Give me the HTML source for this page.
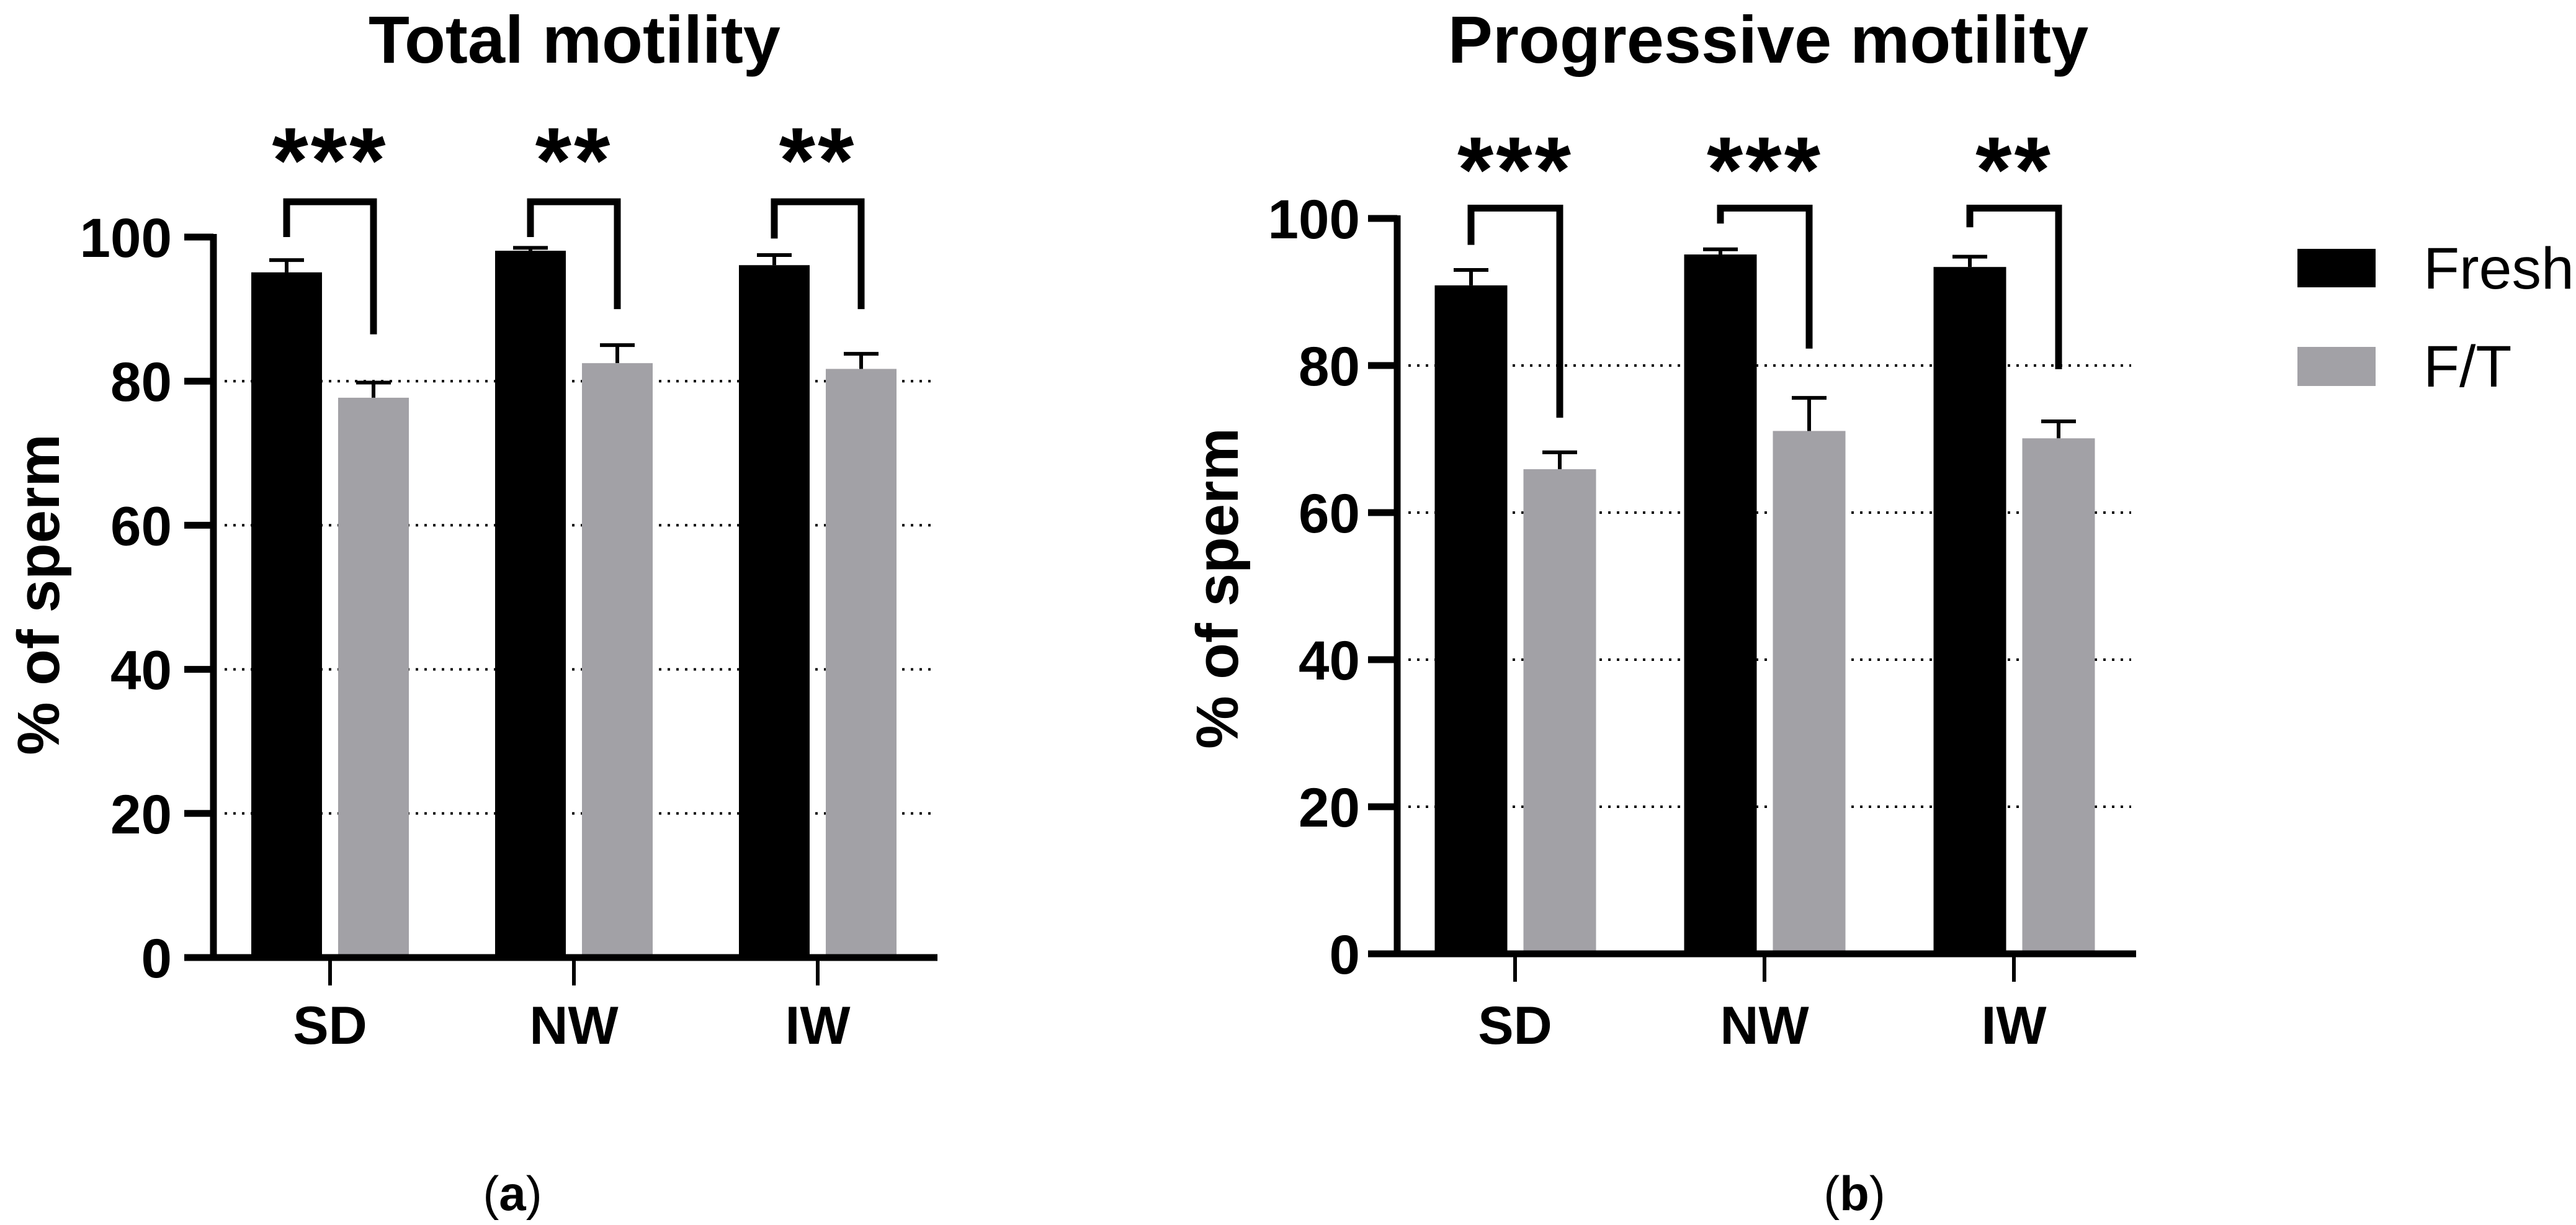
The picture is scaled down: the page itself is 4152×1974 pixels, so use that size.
<!DOCTYPE html>
<html><head><meta charset="utf-8">
<style>
html,body{margin:0;padding:0;background:#fff;}
svg{display:block;}
text{font-family:"Liberation Sans",Arial,sans-serif;}
</style></head>
<body>
<svg id="fig" width="4152" height="1974" viewBox="0 0 4152 1974" xmlns="http://www.w3.org/2000/svg">
  <g id="panelA"></g>
  <g id="panelB"></g>
  <g>
    <rect x="3703" y="401" width="126" height="62" fill="#000"/>
    <text x="3906" y="465" font-size="95">Fresh</text>
    <rect x="3703" y="559" width="126" height="63" fill="#a2a1a6"/>
    <text x="3906" y="623" font-size="95">F/T</text>
  </g>
  <text x="826" y="1950" font-size="78" text-anchor="middle" font-family="Liberation Serif, serif">(<tspan font-weight="bold">a</tspan>)</text>
  <text x="2989" y="1950" font-size="78" text-anchor="middle" font-family="Liberation Serif, serif">(<tspan font-weight="bold">b</tspan>)</text>
</svg>
<script>
const categories = ["SD","NW","IW"];
const yTicks = [0,20,40,60,80,100];
// Panel A: total motility
const totalFresh = [95.1, 98.1, 96.1];
const totalFreshErr = [96.8, 98.5, 97.5];
const totalFT = [77.7, 82.5, 81.7];
const totalFTErr = [79.8, 85.0, 83.8];
const totalStars = ["***","**","**"];
const totalBracketTop = [104.9, 104.9, 104.9];
const totalBracketLeft = [100, 100, 99.8];
const totalBracketRight = [86.5, 90, 90];
// Panel B: progressive motility
const progFresh = [90.9, 95.1, 93.4];
const progFreshErr = [93.0, 95.8, 94.8];
const progFT = [65.9, 71.1, 70.1];
const progFTErr = [68.2, 75.6, 72.4];
const progStars = ["***","***","**"];
const progBracketTop = [101.4, 101.4, 101.4];
const progBracketLeft = [96.4, 99.3, 98.8];
const progBracketRight = [72.9, 82.3, 79.5];

const NS = "http://www.w3.org/2000/svg";
function mk(parent, tag, attrs, name, txt){
  const e = document.createElementNS(NS, tag);
  for (const k in attrs) e.setAttribute(k, attrs[k]);
  
  
  if (txt !== undefined) e.textContent = txt;
  parent.appendChild(e);
  return e;
}

function drawPanel(g, cfg){
  const y = v => cfg.y0 - (v/100)*(cfg.y0 - cfg.y100);
  const cx = i => cfg.cat0 + i*cfg.catStep;
  // title
  mk(g,'text',{x:cfg.titleX,y:101,'font-size':108,'font-weight':'bold','text-anchor':'middle'},'chart-title',cfg.title);
  // y label
  mk(g,'text',{x:0,y:0,'font-size':96,'font-weight':'bold','text-anchor':'middle',transform:`translate(${cfg.ylabX},${cfg.ylabY}) rotate(-90)`},'y-axis-title','% of sperm');
  // grid
  yTicks.forEach(t=>{
    if (t>0 && t<100) mk(g,'line',{x1:cfg.axisX+18,x2:cfg.xEnd-8,y1:y(t),y2:y(t),stroke:'#000','stroke-width':4,'stroke-dasharray':'4 10'},'gridline-'+t);
  });
  // bars
  categories.forEach((c,i)=>{
    const fx = cx(i)+cfg.fOff, tx = cx(i)+cfg.tOff, w = cfg.barW;
    mk(g,'line',{x1:fx,x2:fx,y1:y(cfg.fresh[i]),y2:y(cfg.freshErr[i]),stroke:'#000','stroke-width':6},'errorbar-fresh-'+c);
    mk(g,'line',{x1:fx-28,x2:fx+28,y1:y(cfg.freshErr[i]),y2:y(cfg.freshErr[i]),stroke:'#000','stroke-width':6},'errorcap-fresh-'+c);
    mk(g,'rect',{x:fx-w/2,y:y(cfg.fresh[i]),width:w,height:y(0)-y(cfg.fresh[i]),fill:'#000'},'bar-fresh-'+c);
    mk(g,'line',{x1:tx,x2:tx,y1:y(cfg.ft[i]),y2:y(cfg.ftErr[i]),stroke:'#000','stroke-width':6},'errorbar-ft-'+c);
    mk(g,'line',{x1:tx-28,x2:tx+28,y1:y(cfg.ftErr[i]),y2:y(cfg.ftErr[i]),stroke:'#000','stroke-width':6},'errorcap-ft-'+c);
    mk(g,'rect',{x:tx-w/2,y:y(cfg.ft[i]),width:w,height:y(0)-y(cfg.ft[i]),fill:'#a2a1a6'},'bar-ft-'+c);
    // bracket
    mk(g,'polyline',{points:`${fx},${y(cfg.bL[i])} ${fx},${y(cfg.bTop[i])} ${tx},${y(cfg.bTop[i])} ${tx},${y(cfg.bR[i])}`,fill:'none',stroke:'#000','stroke-width':11},'significance-bracket-'+c);
    mk(g,'text',{x:(fx+tx)/2,y:cfg.starY,'font-size':150,'font-weight':'bold','text-anchor':'middle','letter-spacing':'4'},'significance-stars-'+c,cfg.stars[i]);
    // x tick + label
    mk(g,'line',{x1:cx(i),x2:cx(i),y1:y(0),y2:y(0)+45,stroke:'#000','stroke-width':6},'x-tick-'+c);
    mk(g,'text',{x:cx(i),y:1682,'font-size':86,'font-weight':'bold','text-anchor':'middle'},'x-tick-label-'+c,c);
  });
  // axes
  mk(g,'line',{x1:cfg.axisX,x2:cfg.axisX,y1:y(100)-5,y2:y(0)+5,stroke:'#000','stroke-width':11},'y-axis');
  mk(g,'line',{x1:cfg.axisX-47,x2:cfg.xEnd,y1:y(0),y2:y(0),stroke:'#000','stroke-width':11},'x-axis');
  yTicks.forEach(t=>{
    mk(g,'line',{x1:cfg.axisX-47,x2:cfg.axisX,y1:y(t),y2:y(t),stroke:'#000','stroke-width':11},'y-tick-'+t);
    mk(g,'text',{x:cfg.labR,y:y(t)+32,'font-size':89,'font-weight':'bold','text-anchor':'end'},'y-tick-label-'+t,String(t));
  });
}

drawPanel(document.getElementById('panelA'),{
  title:'Total motility', titleX:926, ylabX:95, ylabY:958,
  y0:1543, y100:382, axisX:344, xEnd:1511, labR:277,
  cat0:532, catStep:393, fOff:-70, tOff:70, barW:114, starY:310,
  fresh:totalFresh, freshErr:totalFreshErr, ft:totalFT, ftErr:totalFTErr,
  stars:totalStars, bTop:totalBracketTop, bL:totalBracketLeft, bR:totalBracketRight
});
drawPanel(document.getElementById('panelB'),{
  title:'Progressive motility', titleX:2850, ylabX:1995, ylabY:948,
  y0:1537, y100:352, axisX:2252, xEnd:3443, labR:2192,
  cat0:2442, catStep:402, fOff:-71, tOff:72, barW:117, starY:325,
  fresh:progFresh, freshErr:progFreshErr, ft:progFT, ftErr:progFTErr,
  stars:progStars, bTop:progBracketTop, bL:progBracketLeft, bR:progBracketRight
});
</script>
</body></html>
